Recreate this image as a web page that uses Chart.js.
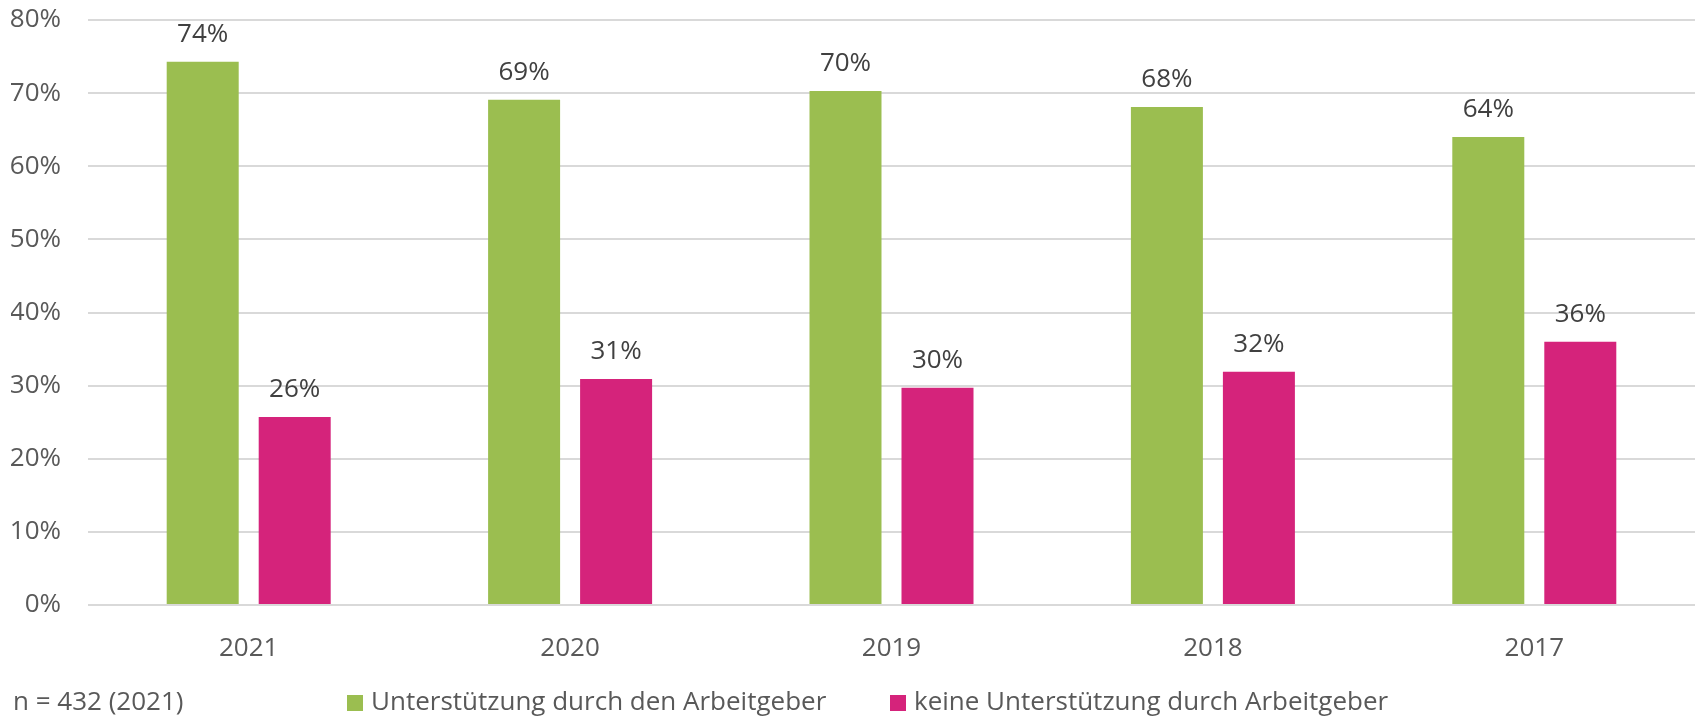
<!DOCTYPE html>
<html>
<head>
<meta charset="utf-8">
<script src="https://cdn.jsdelivr.net/npm/chart.js@4/dist/chart.umd.min.js"></script>
<style>
  body { margin: 0; background: #fff; }
  #wrap { width: 1698px; height: 717px; position: relative; }
</style>
</head>
<body>
<div id="wrap"><canvas id="chart"></canvas></div>
<script>
const years = ['2021', '2020', '2019', '2018', '2017'];
const withSupport = [74.3, 69.1, 70.3, 68.1, 64.0];
const noSupport = [25.7, 30.9, 29.7, 31.9, 36.0];
const seriesNames = ['Unterstützung durch den Arbeitgeber', 'keine Unterstützung durch Arbeitgeber'];
const note = 'n = 432 (2021)';

const FONT = '"Open Sans", sans-serif';

// value labels above each bar
const barLabels = {
  id: 'barLabels',
  afterDatasetsDraw(chart) {
    const ctx = chart.ctx;
    ctx.save();
    ctx.font = '26px ' + FONT;
    ctx.fillStyle = '#404040';
    ctx.textAlign = 'center';
    ctx.textBaseline = 'alphabetic';
    chart.data.datasets.forEach((ds, i) => {
      chart.getDatasetMeta(i).data.forEach((bar, j) => {
        ctx.fillText(Math.round(ds.data[j]) + '%', bar.x, bar.y - 20);
      });
    });
    ctx.restore();
  }
};

// bottom row: sample note + legend
const bottomRow = {
  id: 'bottomRow',
  afterDraw(chart) {
    const ctx = chart.ctx;
    const y = 703;
    ctx.save();
    ctx.font = '26px ' + FONT;
    ctx.textBaseline = 'middle';
    ctx.fillStyle = '#595959';
    ctx.fillText(note, 13, y);
    const starts = [347, 890];
    chart.data.datasets.forEach((ds, i) => {
      ctx.fillStyle = ds.backgroundColor;
      ctx.fillRect(starts[i], y - 8, 16, 16);
      ctx.fillStyle = '#595959';
      ctx.fillText(ds.label, starts[i] + 24, y);
    });
    ctx.restore();
  }
};

new Chart(document.getElementById('chart'), {
  type: 'bar',
  data: {
    labels: years,
    datasets: [
      { label: seriesNames[0], data: withSupport, backgroundColor: '#9BBE50' },
      { label: seriesNames[1], data: noSupport, backgroundColor: '#D5237B' }
    ]
  },
  options: {
    responsive: true,
    maintainAspectRatio: false,
    animation: false,
    categoryPercentage: 0.5725,
    barPercentage: 0.7826,
    layout: { padding: { top: 20, left: 11, right: 3, bottom: 60 } },
    plugins: {
      legend: { display: false },
      tooltip: { enabled: false }
    },
    scales: {
      x: {
        grid: { display: false },
        border: { display: false },
        ticks: { color: '#595959', font: { family: FONT, size: 26 }, padding: 20 },
        afterFit: s => { s.height = 52; }
      },
      y: {
        min: 0,
        max: 80,
        ticks: {
          stepSize: 10,
          color: '#595959',
          font: { family: FONT, size: 26 },
          padding: 27,
          callback: v => v + '%'
        },
        grid: { color: '#D9D9D9', lineWidth: 2, drawTicks: false },
        border: { display: false },
        afterFit: s => { s.width = 77; s.paddingTop = 0; s.paddingBottom = 0; }
      }
    }
  },
  plugins: [barLabels, bottomRow]
});
</script>
</body>
</html>
